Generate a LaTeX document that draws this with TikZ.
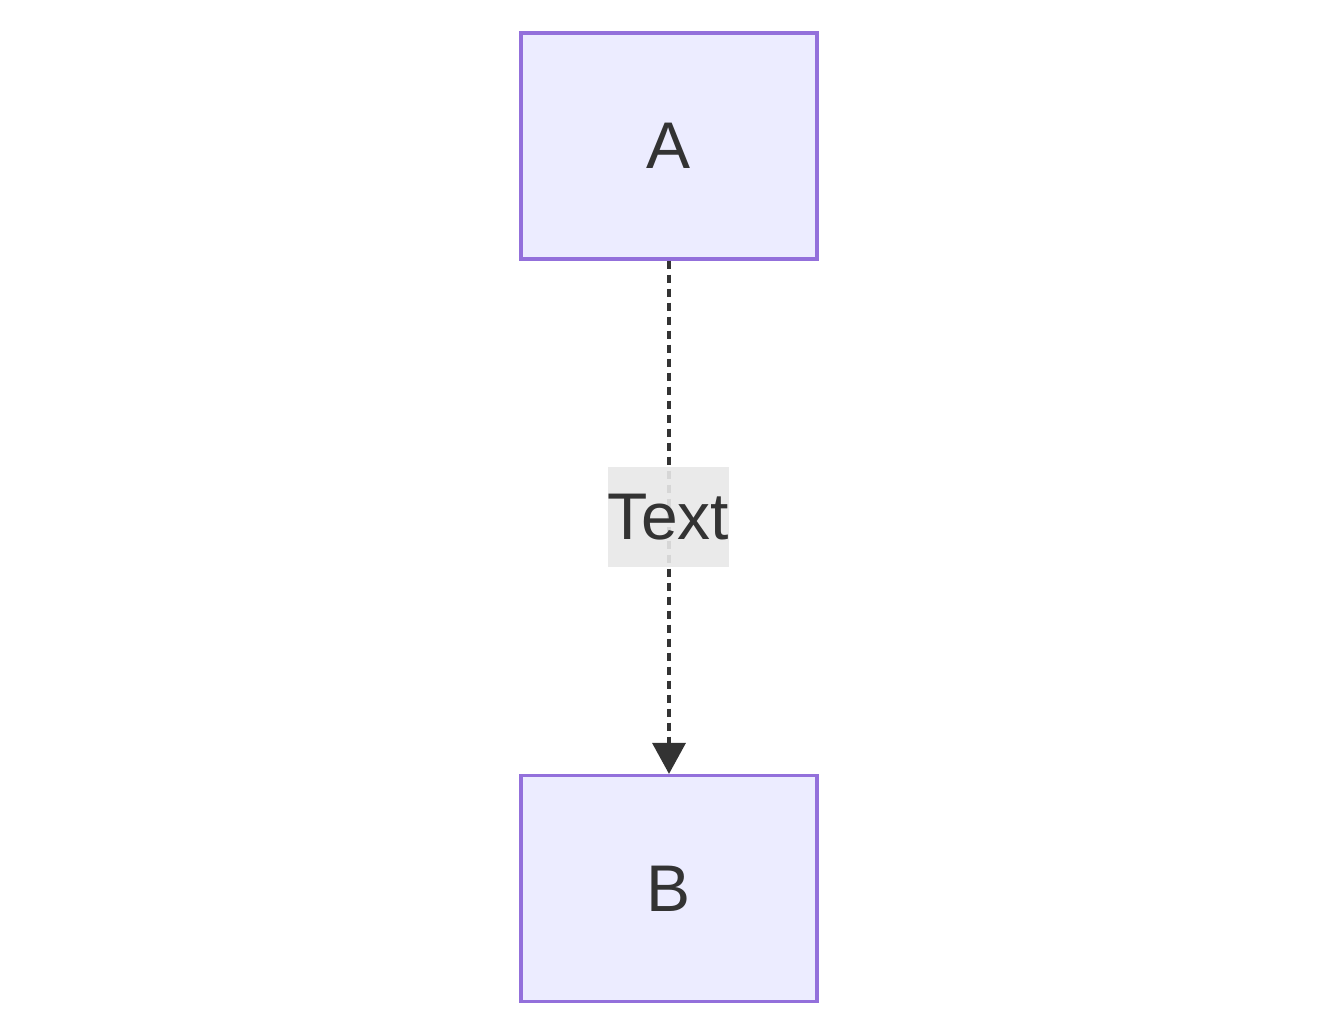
\documentclass[tikz,border=0pt]{standalone}
\usepackage{fontspec}
\setmainfont{Liberation Sans}
\usetikzlibrary{arrows.meta}
\definecolor{nodefill}{HTML}{ECECFF}
\definecolor{nodeline}{HTML}{9370DB}
\definecolor{ink}{HTML}{333333}
\definecolor{lblfill}{HTML}{E8E8E8}
\begin{document}
\begin{tikzpicture}[x=1pt,y=-1pt,
  box/.style={draw=nodeline,fill=nodefill,line width=3.2pt,minimum width=296pt,minimum height=226pt,inner sep=0pt,text=ink,font=\fontsize{66}{78}\selectfont},
  lbl/.style={fill=lblfill,fill opacity=0.9,text opacity=1,text=ink,minimum width=121pt,minimum height=100pt,inner sep=0pt,font=\fontsize{66}{78}\selectfont},
  conn/.style={draw=ink,line width=3.5pt,dash pattern=on 8pt off 6pt,-{Triangle[length=31pt,width=33pt]}}]
\useasboundingbox (0,0) rectangle (1339,1035);
\fill[white] (0,0) rectangle (1339,1035);
\node[box] (A) at (669,146) {A};
\node[box] (B) at (669,888.5) {B};
\draw[conn] (A.south) -- (B.north);
\node[lbl] (T) at (668.5,517) {Text};
\end{tikzpicture}
\end{document}
